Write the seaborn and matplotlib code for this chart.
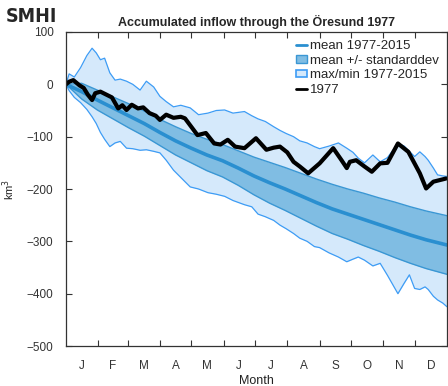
import numpy as np
import pandas as pd
import seaborn as sns
import matplotlib
matplotlib.use("Agg")
import matplotlib.pyplot as plt
from matplotlib.lines import Line2D
from matplotlib.patches import Patch

sns.set_style("white")
plt.rcParams["font.family"] = ["Liberation Sans", "DejaVu Sans"]

# max/min envelope 1977-2015 (day of year, km3)
env_days = [0, 3, 8, 14, 20, 25, 29, 33, 37, 42, 47, 52, 58, 64, 71, 77, 84, 90, 96, 103,
            110, 119, 127, 136, 144, 152, 160, 171, 178, 184, 191, 199, 205, 211, 218, 224,
            231, 238, 243, 252, 261, 269, 275, 280, 286, 294, 301, 308, 318, 324, 329, 334,
            339, 344, 347, 352, 356, 361, 365]
env_max = [0, 20, 14, 32, 55, 69, 60, 47, 50, 22, 8, 10, 6, 0, -11, 6, -5, -23, -33, -43,
           -40, -45, -58, -55, -50, -49, -55, -52, -60, -66, -71, -81, -88, -94, -100, -108,
           -112, -119, -123, -118, -112, -122, -130, -141, -150, -135, -148, -140, -113, -118, -128, -138,
           -129, -138, -145, -160, -173, -175, -176]
env_min = [0, -12, -25, -35, -48, -62, -75, -92, -105, -119, -112, -109, -122, -123, -126, -125, -128, -131, -145, -164,
           -178, -196, -200, -207, -210, -214, -222, -230, -234, -248, -253, -260, -269, -276, -285, -294,
           -300, -310, -312, -322, -330, -339, -334, -330, -336, -347, -342, -365, -400, -380, -364, -390,
           -392, -387, -392, -405, -412, -418, -425]

# mean and mean +/- standard deviation
band_days = [0, 15, 30, 45, 60, 75, 90, 105, 120, 135, 150, 165, 180, 195, 210, 225, 240,
             255, 270, 285, 300, 315, 330, 345, 365]
mean_vals = [0, -14, -30, -45, -60, -75, -92, -108, -122, -135, -146, -160, -175, -188, -200, -213, -226,
             -238, -248, -258, -268, -278, -288, -297, -307]
std_upper = [0, 2, -11, -24, -37, -51, -67, -81, -94, -105, -115, -127, -139, -149, -159, -170, -181,
             -191, -200, -208, -217, -225, -234, -242, -251]
std_lower = [0, -28, -49, -66, -83, -99, -117, -135, -150, -165, -177, -193, -211, -227, -241, -256, -271,
             -285, -296, -308, -319, -331, -342, -352, -363]

# year 1977
y77_days = [0, 3, 7, 10, 13, 17, 21, 25, 28, 33, 39, 44, 50, 54, 58, 63, 69, 74, 80, 86,
            90, 96, 103, 110, 114, 120, 126, 134, 142, 148, 155, 162, 171, 182, 192, 199, 205, 212,
            218, 224, 232, 243, 256, 264, 269, 272, 278, 286, 293, 301, 308, 318, 328, 339,
            345, 352, 358, 364]
y77_vals = [0, 5, 8, 3, -2, -7, -20, -30, -17, -14, -20, -25, -46, -40, -49, -39, -46, -44, -55, -60,
            -68, -58, -64, -62, -65, -81, -97, -93, -113, -115, -106, -119, -122, -103, -125, -121, -119, -130,
            -148, -157, -170, -151, -122, -145, -160, -148, -145, -157, -167, -151, -150, -113, -129, -170,
            -199, -186, -183, -180]

month_starts = [31, 59, 90, 120, 151, 181, 212, 243, 273, 304, 334]
month_mids = [15.5, 45, 74.5, 105, 135.5, 166, 196.5, 227.5, 258, 288.5, 319, 349.5]
month_labels = ["J", "F", "M", "A", "M", "J", "J", "A", "S", "O", "N", "D"]

light_fill = "#d5e9fb"
env_line = "#3d9cf5"
band_fill = "#80bde3"
band_line = "#3a97d4"
mean_col = "#2a8fd0"

env = pd.DataFrame({"day": env_days, "max": env_max, "min": env_min})
band = pd.DataFrame({"day": band_days, "mean": mean_vals, "hi": std_upper, "lo": std_lower})
y77 = pd.DataFrame({"day": y77_days, "val": y77_vals})

fig = plt.figure(figsize=(4.48, 3.86), dpi=100)
ax = fig.add_axes([0.1473, 0.1036, 0.8504, 0.8135])

ax.fill_between(env["day"], env["min"], env["max"], color=light_fill, lw=0)
sns.lineplot(data=env, x="day", y="max", color=env_line, lw=0.9, ax=ax)
sns.lineplot(data=env, x="day", y="min", color=env_line, lw=0.9, ax=ax)

ax.fill_between(band["day"], band["lo"], band["hi"], color=band_fill, lw=0)
sns.lineplot(data=band, x="day", y="hi", color=band_line, lw=1.0, ax=ax)
sns.lineplot(data=band, x="day", y="lo", color=band_line, lw=1.0, ax=ax)
sns.lineplot(data=band, x="day", y="mean", color=mean_col, lw=2.6, ax=ax)

sns.lineplot(data=y77, x="day", y="val", color="black", lw=3.0, ax=ax)

ax.set_xlim(0, 365)
ax.set_ylim(-500, 100)
ax.set_yticks(range(-500, 101, 100))
ax.set_xticks(month_starts)
ax.set_xticklabels([])
ax.set_xticks(month_mids, minor=True)
ax.set_xticklabels(month_labels, minor=True)
ax.tick_params(axis="x", which="major", direction="in", length=4, width=0.8,
               top=True, bottom=True, color="#333333")
ax.tick_params(axis="x", which="minor", length=0, pad=10, labelsize=8.5, labelcolor="#333333")
ax.tick_params(axis="y", direction="in", length=4, width=0.8, left=True, right=True,
               pad=9, labelsize=8.5, labelcolor="#333333", color="#333333")
for s in ax.spines.values():
    s.set_color("#333333")
    s.set_linewidth(0.9)

ax.set_xlabel("Month", fontsize=9, color="#222222", labelpad=2)
ax.set_ylabel("km$^3$", fontsize=8, color="#222222")
ax.yaxis.set_label_coords(-0.128, 0.5)
ax.set_title("Accumulated inflow through the Öresund 1977", fontsize=9, fontweight="bold", pad=4)

handles = [
    Line2D([], [], color=mean_col, lw=2),
    Patch(facecolor=band_fill, edgecolor=band_line, lw=1),
    Patch(facecolor=light_fill, edgecolor=env_line, lw=1.2),
    Line2D([], [], color="black", lw=2),
]
labels = ["mean 1977-2015", "mean +/- standarddev", "max/min 1977-2015", "1977"]
ax.legend(handles, labels, loc="upper right", frameon=False, fontsize=9.5,
          handlelength=0.8, handleheight=0.5, handletextpad=0.25, labelspacing=0.2,
          borderaxespad=0.2, bbox_to_anchor=(1.0, 1.0))

fig.text(0.012, 0.943, "SMHI", fontsize=14, fontweight="heavy", fontstretch="condensed",
         family=["DejaVu Sans"])

fig.savefig("out.png", dpi=100)
